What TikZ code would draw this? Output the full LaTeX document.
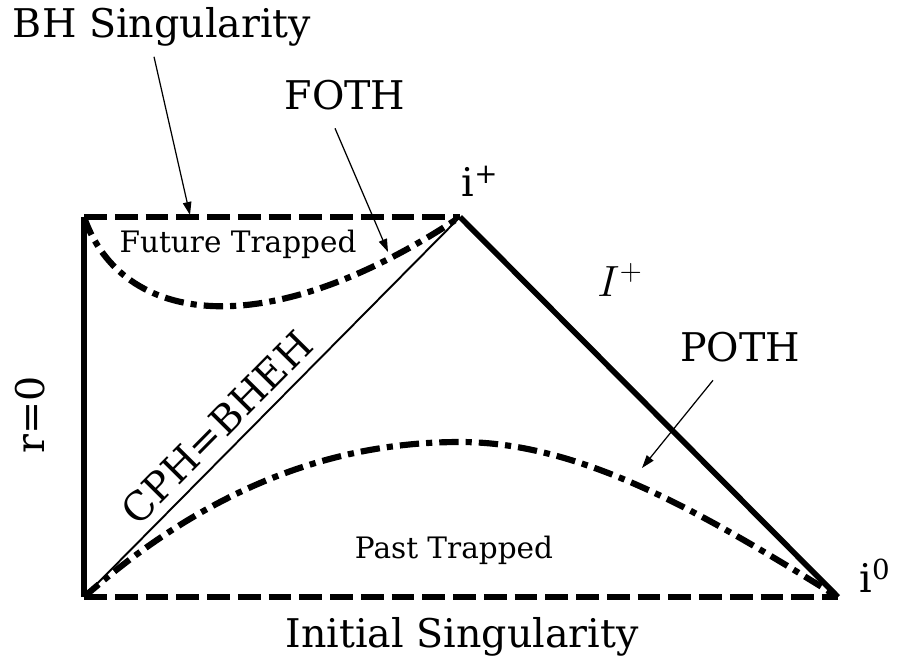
\documentclass[tikz,border=0pt]{standalone}
\usepackage{fontspec}
\setmainfont{DejaVu Serif}
\usepackage{tikz}
\usetikzlibrary{arrows.meta,positioning}

\tikzset{
  edge/.style={line width=3.2pt},
  singular/.style={line width=3.8pt, dash pattern=on 13pt off 4.5pt},
  trapped/.style={line width=3.5pt, dash pattern=on 11pt off 4pt on 3.5pt off 4pt},
  horizon/.style={line width=1.1pt},
  pointer/.style={line width=0.7pt, -{Triangle[length=2.6mm,width=1.7mm]}},
  biglabel/.style={font=\fontsize{22.5}{27}\selectfont, inner sep=0pt},
  smalllabel/.style={font=\fontsize{16.8}{20}\selectfont, inner sep=0pt}
}

\begin{document}
\begin{tikzpicture}
  \useasboundingbox (-1.68,-1.28) rectangle (16.28,11.94);

  % corners of the diagram
  \coordinate (rz) at (0,0);
  \coordinate (tl) at (0,7.6);
  \coordinate (ip) at (7.52,7.6);
  \coordinate (izero) at (15.08,0);

  % boundaries
  \draw[edge] (rz) -- (tl);
  \draw[edge] (ip) -- (izero);
  \draw[singular] (tl) -- (ip);
  \draw[singular] (rz) -- (izero);
  \draw[horizon] (rz) -- (ip)
    node[pos=0.4, sloped, above=5pt, biglabel] (cph) {CPH=BHEH};

  % trapped surfaces
  \draw[trapped] (tl) .. controls (0.75,5.45) and (3.6,5.0) .. (ip);
  \draw[trapped] (rz) .. controls (2.5,2.2) and (5,3.1) .. (7.52,3.1)
    .. controls (10,3.1) and (12.5,1.6) .. (izero);

  % labels
  \node[biglabel] (bh) at (1.56,11.4) {BH Singularity};
  \node[biglabel] (foth) at (5.22,10.04) {FOTH};
  \node[biglabel] (poth) at (13.12,5.0) {POTH};
  \node[biglabel, anchor=base] (init) at (7.56,-1.0) {Initial Singularity};
  \node[biglabel, rotate=90] (rzero) at (-1.08,3.64) {r=0};
  \node[biglabel] (iplus) at (7.92,8.32) {i\textsuperscript{+}};
  \node[biglabel] (izlabel) at (15.82,0.42) {i\textsuperscript{0}};
  \node[font=\fontsize{27}{30}\selectfont, inner sep=0pt] (scri) at (10.72,6.34) {$I^+$};
  \node[smalllabel, anchor=base] (ft) at (3.08,6.88) {Future Trapped};
  \node[smalllabel, anchor=base] (pt) at (7.4,0.78) {Past Trapped};

  % pointers
  \coordinate (bhtip) at (2.12,7.64);
  \coordinate (fotip) at (6.08,6.9);
  \coordinate (potip) at (11.16,2.58);
  \draw[pointer] ([xshift=-0.16cm,yshift=-0.2cm]bh.south) -- (bhtip);
  \draw[pointer] ([xshift=-0.2cm,yshift=-0.36cm]foth.south) -- (fotip);
  \draw[pointer] ([xshift=-0.54cm,yshift=-0.36cm]poth.south) -- (potip);
\end{tikzpicture}
\end{document}
